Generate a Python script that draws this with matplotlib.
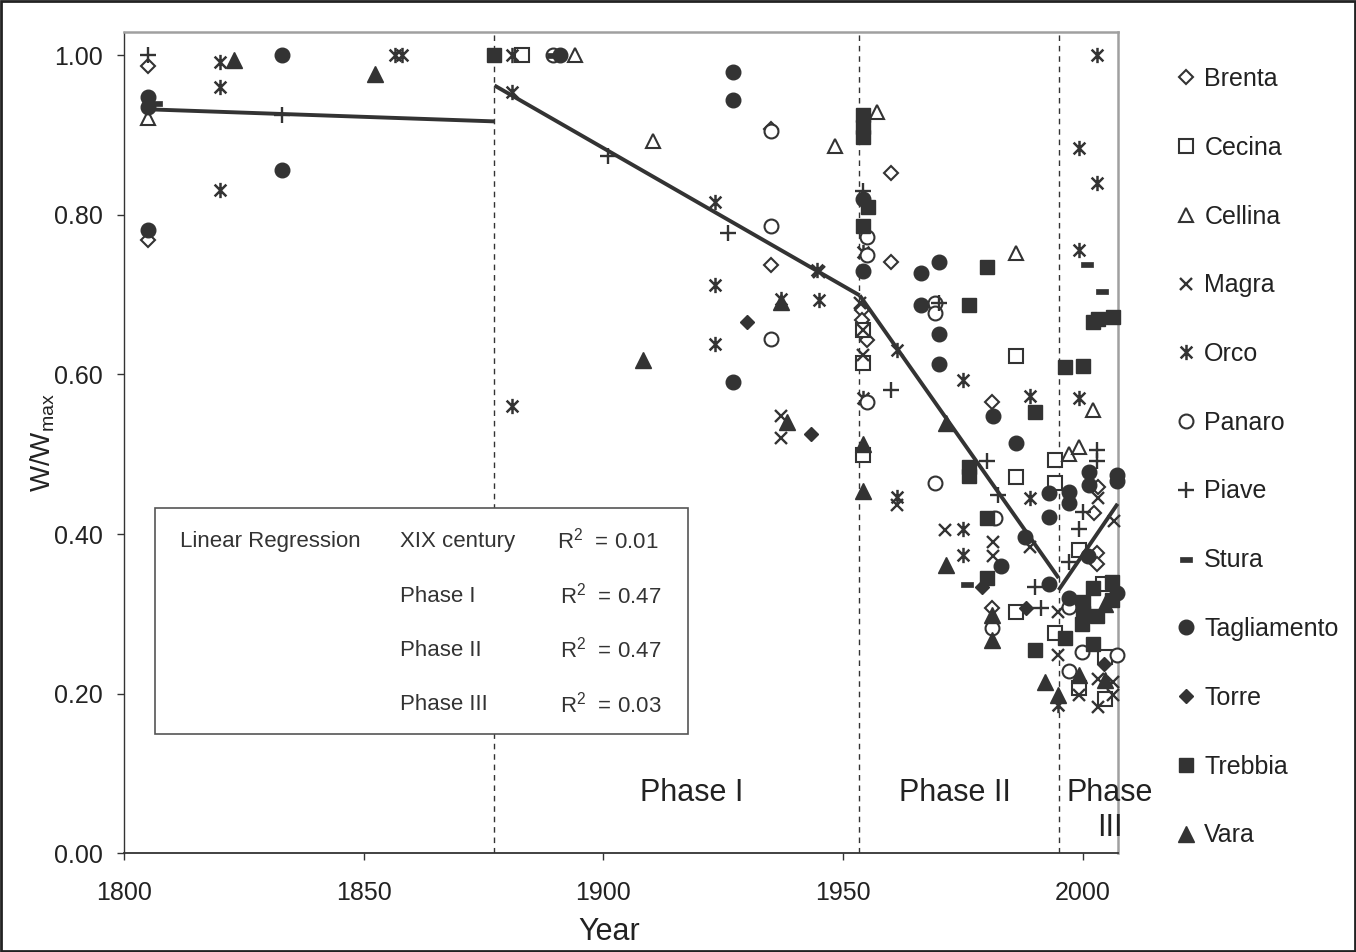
import matplotlib
matplotlib.use("Agg")
import matplotlib.pyplot as plt
from matplotlib.path import Path
from matplotlib.patches import Rectangle

plt.rcParams['font.family'] = ['Liberation Sans', 'DejaVu Sans']
plt.rcParams['mathtext.fontset'] = 'custom'
plt.rcParams['mathtext.rm'] = 'Liberation Sans'
plt.rcParams['mathtext.it'] = 'Liberation Sans:italic'

# --- data (year, W/Wmax) ---
brenta_year = [1805, 1805, 1935, 1935, 1954, 1954, 1955, 1960, 1960, 1981, 1981, 2003.3, 2002.4, 2002.9, 2002.9]
brenta_w = [0.986, 0.769, 0.908, 0.737, 0.681, 0.668, 0.643, 0.852, 0.741, 0.566, 0.307, 0.459, 0.427, 0.376, 0.363]

cecina_year = [1883, 1954.2, 1954.2, 1954.2, 1986.2, 1986.2, 1986.2, 1994.2, 1994.2, 1994.2, 1999.3, 1999.3, 2004.3, 2004.6, 2004.6]
cecina_w = [1.0, 0.656, 0.614, 0.499, 0.623, 0.471, 0.303, 0.493, 0.464, 0.276, 0.380, 0.207, 0.338, 0.246, 0.194]

cellina_year = [1805, 1894, 1910.4, 1948.3, 1957, 1986.2, 1997.1, 1999.3, 2002.2]
cellina_w = [0.921, 1.0, 0.892, 0.886, 0.929, 0.752, 0.501, 0.509, 0.555]

magra_year = [1937, 1937, 1945, 1953.6, 1954.2, 1954.2, 1961.2, 1971.3, 1981.3, 1981.3, 1989.1,
              1994.9, 1994.9, 1999.3, 2003.3, 2003.3, 2003.3, 2006.6, 2006.4, 2006.4]
magra_w = [0.548, 0.520, 0.728, 0.690, 0.656, 0.625, 0.437, 0.405, 0.390, 0.372, 0.384,
           0.303, 0.249, 0.199, 0.445, 0.219, 0.184, 0.416, 0.215, 0.199]

orco_year = [1820, 1820, 1820, 1856.5, 1858, 1881, 1881, 1881, 1923.3, 1923.3, 1923.3, 1937, 1944.5,
             1945, 1954.2, 1954.2, 1961.2, 1961.2, 1975.1, 1975, 1975, 1989.1, 1989.1, 1994.9,
             1999.3, 1999.3, 1999.3, 2003.1, 2003.1]
orco_w = [0.992, 0.960, 0.831, 1.0, 1.0, 1.0, 0.954, 0.561, 0.816, 0.712, 0.638, 0.695, 0.731,
          0.693, 0.754, 0.570, 0.631, 0.447, 0.593, 0.407, 0.374, 0.573, 0.445, 0.186,
          0.884, 0.756, 0.570, 1.0, 0.840]

panaro_year = [1889.5, 1935, 1935, 1935, 1955, 1955, 1955, 1969.3, 1969.3, 1969.3, 1981.8, 1981, 1997.1,
               1997.1, 1999.8, 2007.1]
panaro_w = [1.0, 0.905, 0.786, 0.645, 0.772, 0.750, 0.565, 0.689, 0.677, 0.464, 0.420, 0.282, 0.309,
            0.228, 0.252, 0.248]

piave_year = [1805, 1833, 1901, 1926, 1954.2, 1960.1, 1970, 1980.1, 1982.4, 1990, 1991.3, 1997.1,
              1999.3, 2000.1, 2003, 2003]
piave_w = [1.0, 0.925, 0.874, 0.777, 0.830, 0.580, 0.690, 0.491, 0.449, 0.334, 0.307, 0.365,
           0.407, 0.428, 0.505, 0.491]

stura_year = [1806.7, 1889.5, 1975.9, 2001, 2004]
stura_w = [0.940, 1.0, 0.337, 0.739, 0.704]

tagliamento_year = [1805, 1805, 1805, 1833, 1833, 1891, 1927, 1927, 1927, 1954.2, 1954.2, 1966.2, 1966.2,
                    1970, 1970, 1970, 1981.3, 1982.9, 1986.2, 1988, 1993, 1993, 1993, 1997.1, 1997.1,
                    1997.1, 2001.4, 2001.4, 2001.2, 2007.2, 2007.2, 2007.2]
tagliamento_w = [0.948, 0.935, 0.781, 1.0, 0.856, 1.0, 0.979, 0.944, 0.591, 0.820, 0.729, 0.727, 0.687,
                 0.741, 0.651, 0.613, 0.548, 0.360, 0.514, 0.397, 0.451, 0.422, 0.338, 0.453, 0.439,
                 0.320, 0.478, 0.461, 0.372, 0.474, 0.466, 0.326]

torre_year = [1930, 1943.3, 1979.1, 1988.2, 2004.5]
torre_w = [0.666, 0.526, 0.334, 0.307, 0.237]

trebbia_year = [1877.3, 1954.2, 1954.2, 1954.2, 1955.2, 1954.2, 1976.3, 1980.1, 1976.3, 1976.3, 1980.1,
                1980.1, 1990, 1990, 1996.3, 1996.3, 2000.1, 2000.1, 2002.2, 2003.3, 2006.4, 1999.8,
                2000.1, 2002.2, 2002.9, 2002.2, 2006.1, 2006.1]
trebbia_w = [1.0, 0.925, 0.910, 0.897, 0.810, 0.786, 0.687, 0.734, 0.484, 0.473, 0.420,
             0.345, 0.553, 0.255, 0.609, 0.270, 0.611, 0.315, 0.666, 0.669, 0.672, 0.288,
             0.301, 0.332, 0.297, 0.263, 0.340, 0.317]

vara_year = [1823, 1852.3, 1908.3, 1937, 1938.3, 1954.2, 1954.2, 1971.4, 1971.5, 1981, 1981, 1992.2,
             1994.9, 1999.3, 2004.6, 2004.6]
vara_w = [0.994, 0.977, 0.618, 0.691, 0.541, 0.513, 0.454, 0.539, 0.361, 0.299, 0.267, 0.215,
          0.199, 0.224, 0.313, 0.217]

# regression segments: (start year, end year), (start value, end value)
reg_xix_x = [1805.7, 1877.3]
reg_xix_y = [0.932, 0.917]
reg_p1_x = [1877.3, 1953.5]
reg_p1_y = [0.962, 0.699]
reg_p2_x = [1953.5, 1995.0]
reg_p2_y = [0.699, 0.345]
reg_p3_x = [1995.0, 2007.3]
reg_p3_y = [0.330, 0.438]

phase_bounds = [1877.3, 1953.4, 1995.0]

reg_names = ['XIX century', 'Phase I', 'Phase II', 'Phase III']
reg_r2 = ['0.01', '0.47', '0.47', '0.03']

dark = '#333333'

orco_marker = Path([(-1, -1), (1, 1), (-1, 1), (1, -1), (0, -1.3), (0, 1.3)],
                   [Path.MOVETO, Path.LINETO, Path.MOVETO, Path.LINETO, Path.MOVETO, Path.LINETO])
stura_marker = Path([(-1, -0.4), (1, -0.4), (1, 0.4), (-1, 0.4), (-1, -0.4)],
                    [Path.MOVETO, Path.LINETO, Path.LINETO, Path.LINETO, Path.CLOSEPOLY])

series = [
    ('Brenta', brenta_year, brenta_w, dict(marker='D', ms=7, mfc='white', mec=dark, mew=1.5)),
    ('Cecina', cecina_year, cecina_w, dict(marker='s', ms=9.5, mfc='white', mec=dark, mew=1.5)),
    ('Cellina', cellina_year, cellina_w, dict(marker='^', ms=10, mfc='white', mec=dark, mew=1.5)),
    ('Magra', magra_year, magra_w, dict(marker='x', ms=9, mec=dark, mew=1.7)),
    ('Orco', orco_year, orco_w, dict(marker=orco_marker, ms=11, mec=dark, mfc='none', mew=1.8)),
    ('Panaro', panaro_year, panaro_w, dict(marker='o', ms=10, mfc='white', mec=dark, mew=1.5)),
    ('Piave', piave_year, piave_w, dict(marker='+', ms=11, mec=dark, mew=1.7)),
    ('Stura', stura_year, stura_w, dict(marker=stura_marker, ms=9, mfc=dark, mec=dark, mew=0.5)),
    ('Tagliamento', tagliamento_year, tagliamento_w, dict(marker='o', ms=10.5, mfc=dark, mec=dark, mew=1)),
    ('Torre', torre_year, torre_w, dict(marker='D', ms=7.5, mfc=dark, mec=dark, mew=1)),
    ('Trebbia', trebbia_year, trebbia_w, dict(marker='s', ms=10, mfc=dark, mec=dark, mew=1)),
    ('Vara', vara_year, vara_w, dict(marker='^', ms=11, mfc=dark, mec=dark, mew=1)),
]

fig = plt.figure(figsize=(13.56, 9.52), dpi=100)
ax = fig.add_axes([0.0914, 0.1035, 0.7328, 0.8629])

handles = []
for name, xs, ys, st in series:
    h, = ax.plot(xs, ys, ls='none', label=name, clip_on=False, zorder=3, **st)
    handles.append(h)

for bx in phase_bounds:
    ax.axvline(bx, color=dark, lw=1, ls=(0, (4, 3.5)), zorder=2)

for xs, ys in [(reg_xix_x, reg_xix_y), (reg_p1_x, reg_p1_y), (reg_p2_x, reg_p2_y), (reg_p3_x, reg_p3_y)]:
    ax.plot(xs, ys, color=dark, lw=2.8, solid_capstyle='butt', zorder=4, clip_on=False)

ax.set_xlim(1800, 2007.3)
ax.set_ylim(0, 1.029)
ax.set_xticks([1800, 1850, 1900, 1950, 2000])
ax.set_yticks([0, 0.2, 0.4, 0.6, 0.8, 1.0])
ax.set_yticklabels(['%.2f' % v for v in [0, 0.2, 0.4, 0.6, 0.8, 1.0]])
ax.tick_params(axis='both', direction='out', length=5, width=1, color=dark, labelsize=18, labelcolor='#222222')
ax.tick_params(axis='x', pad=15)
ax.tick_params(axis='y', pad=10)

for s in ['top', 'right']:
    ax.spines[s].set_color('#a0a0a0')
    ax.spines[s].set_linewidth(1.8)
ax.spines['left'].set_color(dark)
ax.spines['bottom'].set_color(dark)
ax.spines['left'].set_linewidth(1)
ax.spines['bottom'].set_linewidth(1.3)

ax.set_xlabel('Year', fontsize=22, color='#222222')
ax.xaxis.set_label_coords(0.488, -0.077)
ax.set_ylabel(r'W/W$_{\mathrm{max}}$', fontsize=20, color='#222222')
ax.yaxis.set_label_coords(-0.067, 0.5)

# phase labels
ax.text(1918.5, 0.076, 'Phase I', fontsize=22, color='#222222', ha='center', va='center')
ax.text(1973.3, 0.076, 'Phase II', fontsize=22, color='#222222', ha='center', va='center')
ax.text(2005.7, 0.076, 'Phase', fontsize=22, color='#222222', ha='center', va='center')
ax.text(2005.7, 0.032, 'III', fontsize=22, color='#222222', ha='center', va='center')

# regression box
box = Rectangle((155 / 1356, 1 - 734 / 952), (688 - 155) / 1356, (734 - 508) / 952,
                transform=fig.transFigure, fill=True, fc='white', ec='#555555', lw=1.2, zorder=5)
fig.patches.append(box)
row_y = [541, 596, 650, 705]
fig.text(180 / 1356, 1 - row_y[0] / 952, 'Linear Regression', fontsize=16, color='#333333', va='center', zorder=6)
for i, (nm, r2) in enumerate(zip(reg_names, reg_r2)):
    fig.text(400 / 1356, 1 - row_y[i] / 952, nm, fontsize=16, color='#333333', va='center', zorder=6)
    fig.text((557 if i == 0 else 560) / 1356, 1 - row_y[i] / 952, r'R$^{\mathrm{2}}$  = ' + r2,
             fontsize=16, color='#333333', va='center', zorder=6)

leg = fig.legend(handles=handles, loc='upper left', bbox_to_anchor=(1173 / 1356, 1 - 67 / 952),
                 frameon=False, fontsize=18, handlelength=1.0, handletextpad=0.25,
                 labelspacing=1.79, borderpad=0, borderaxespad=0, numpoints=1)
for t in leg.get_texts():
    t.set_color('#222222')

fig.patches.append(Rectangle((0.001, 0.001), 0.998, 0.998, transform=fig.transFigure,
                             fill=False, ec='#222222', lw=2))

fig.savefig('out.png', dpi=100)
